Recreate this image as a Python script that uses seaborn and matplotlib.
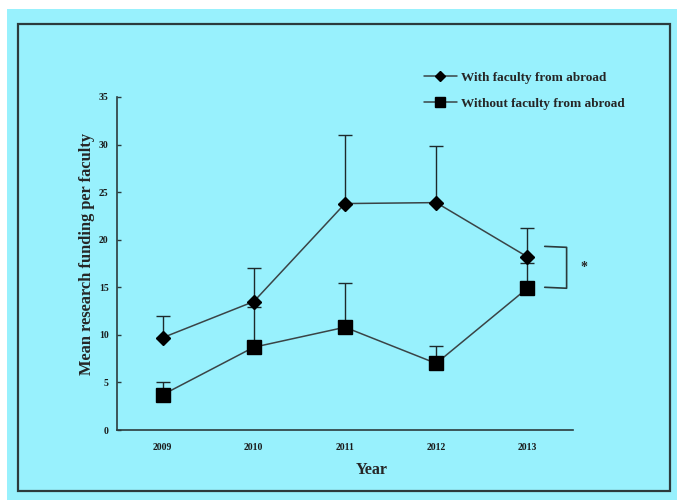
import matplotlib
matplotlib.use("Agg")
import matplotlib.pyplot as plt
from matplotlib.patches import Rectangle
from matplotlib.lines import Line2D
import seaborn as sns
import pandas as pd
import numpy as np

years = ["2009", "2010", "2011", "2012", "2013"]
with_mean = [9.7, 13.5, 23.8, 23.9, 18.2]
with_upper = [12.0, 17.0, 31.0, 29.9, 21.2]
without_mean = [3.7, 8.7, 10.8, 7.0, 14.9]
without_upper = [5.0, 12.9, 15.5, 8.8, 17.6]
series_names = ["With faculty from abroad", "Without faculty from abroad"]
y_ticks = [0, 5, 10, 15, 20, 25, 30, 35]

sns.set_theme(style="white")
plt.rcParams['font.family'] = ['Liberation Serif', 'DejaVu Serif']
plt.rcParams['font.weight'] = 'bold'

bg = "#98F1FD"
fig = plt.figure(figsize=(6.77, 5.0), dpi=100)
fig.patch.set_facecolor("white")
fig.patches.append(Rectangle((7/677, 0), 1 - 7/677, 1 - 9/500, transform=fig.transFigure,
                             facecolor=bg, edgecolor="none", zorder=-10))
fig.patches.append(Rectangle((18/677, 1 - 491/500), (670-18)/677, (491-24)/500,
                             transform=fig.transFigure, facecolor="none",
                             edgecolor="#2b3b3d", linewidth=1.6, zorder=-5))

ax = fig.add_axes([117/677, 1 - 430/500, (573-117)/677, (430-97)/500])
ax.set_facecolor("none")

pos = np.arange(len(years))
df = pd.DataFrame({
    "pos": np.concatenate([pos, pos]),
    "value": with_mean + without_mean,
    "group": [series_names[0]] * len(years) + [series_names[1]] * len(years),
})

line_col = "#3a4446"
# error bars (upper only)
ax.errorbar(pos, with_mean, yerr=[np.zeros(len(pos)), np.array(with_upper) - np.array(with_mean)],
            fmt="none", ecolor="#1e2a2c", elinewidth=1.0, capsize=5, capthick=1.0, zorder=2)
ax.errorbar(pos, without_mean, yerr=[np.zeros(len(pos)), np.array(without_upper) - np.array(without_mean)],
            fmt="none", ecolor="#1e2a2c", elinewidth=1.0, capsize=5, capthick=1.0, zorder=2)

sns.lineplot(data=df, x="pos", y="value", hue="group", style="group",
             markers={series_names[0]: "D", series_names[1]: "s"}, dashes=False,
             palette={series_names[0]: line_col, series_names[1]: line_col},
             linewidth=1.1, markersize=0, ax=ax, legend=False, zorder=3)
ax.plot(pos, with_mean, linestyle="none", marker="D", markersize=7, color="black", zorder=4)
ax.plot(pos, without_mean, linestyle="none", marker="s", markersize=10, color="black", zorder=4)

ax.set_xlim(-0.5, len(years) - 0.5)
ax.set_ylim(0, 35)
ax.set_yticks(y_ticks)
ax.set_yticklabels([str(t) for t in y_ticks], fontsize=7, fontweight="bold")
ax.set_xticks(pos)
ax.set_xticklabels(years, fontsize=7, fontweight="bold")
ax.set_xticks(np.arange(-0.5, len(years)), minor=True)
ax.tick_params(axis="x", which="major", length=0, pad=9, colors="#1a1a1a")
ax.tick_params(axis="x", which="minor", direction="in", length=3, width=1, color="#2b3b3d")
ax.tick_params(axis="y", direction="in", length=3, width=1, color="#2b3b3d", pad=6, colors="#1a1a1a")
ax.tick_params(axis="y", which="major", left=True)

for s in ["top", "right"]:
    ax.spines[s].set_visible(False)
for s in ["left", "bottom"]:
    ax.spines[s].set_color("#2b3b3d")
    ax.spines[s].set_linewidth(1.2)

ax.set_xlabel("Year", fontsize=11.5, fontweight="bold")
ax.xaxis.set_label_coords(0.559, -0.097)
ax.set_ylabel("Mean research funding per faculty", fontsize=11.8, fontweight="bold")
ax.yaxis.set_label_coords(-0.048, 0.528)

# significance bracket
top_b = with_mean[-1] + 1.1
bot_b = without_mean[-1]
ax.plot([4.19, 4.43, 4.43, 4.19], [top_b, top_b - 0.1, bot_b, bot_b + 0.1],
        color="#2b3b3d", linewidth=1.2, clip_on=False)
ax.text(4.62, (top_b + bot_b) / 2, "*", fontsize=10, fontweight="bold",
        ha="center", va="center", clip_on=False)

handles = [Line2D([], [], color=line_col, linewidth=1.1, marker="D", markersize=5,
                  markerfacecolor="black", markeredgecolor="black"),
           Line2D([], [], color=line_col, linewidth=1.1, marker="s", markersize=7,
                  markerfacecolor="black", markeredgecolor="black")]
leg = fig.legend(handles, series_names, loc="upper left",
                 bbox_to_anchor=(412/677, 1 - 60/500), frameon=False,
                 prop={"family": "Liberation Serif", "weight": "bold", "size": 9.5},
                 handlelength=2.5, handletextpad=0.3, labelspacing=1.0)

fig.savefig("out.png", dpi=100, facecolor=fig.get_facecolor())
